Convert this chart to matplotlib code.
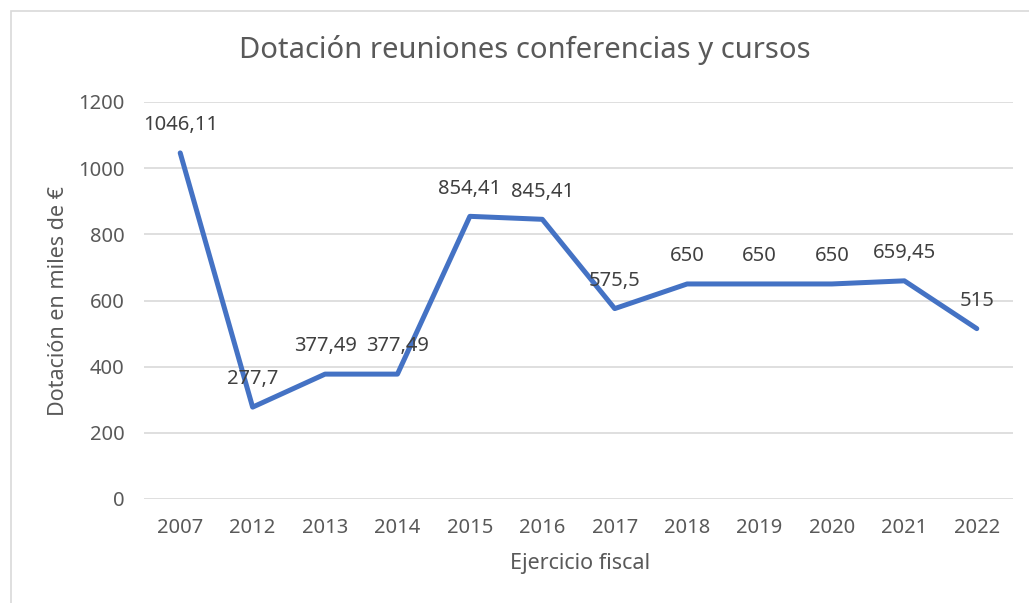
import matplotlib.pyplot as plt
from matplotlib.patches import Rectangle

# --- Datos --------------------------------------------------------------------
ejercicios = ["2007", "2012", "2013", "2014", "2015", "2016",
              "2017", "2018", "2019", "2020", "2021", "2022"]
dotacion = [1046.11, 277.7, 377.49, 377.49, 854.41, 845.41,
            575.5, 650, 650, 650, 659.45, 515]
etiquetas = ["1046,11", "277,7", "377,49", "377,49", "854,41", "845,41",
             "575,5", "650", "650", "650", "659,45", "515"]
yticks = [0, 200, 400, 600, 800, 1000, 1200]

GRIS = "#595959"
AZUL = "#4472C4"

plt.rcParams["font.family"] = ["Noto Sans", "DejaVu Sans"]

fig = plt.figure(figsize=(10.29, 6.03), dpi=100)
ax = fig.add_axes([144 / 1029, 1 - 499 / 603, (1013 - 144) / 1029, (499 - 102) / 603])

x = list(range(len(ejercicios)))
ax.plot(x, dotacion, color=AZUL, linewidth=3.6, solid_capstyle="round",
        solid_joinstyle="round", zorder=3)

# Etiquetas de datos encima de cada punto
for xi, yi, txt in zip(x, dotacion, etiquetas):
    ax.annotate(txt, (xi, yi), xytext=(0, 20), textcoords="offset points",
                ha="center", va="center", fontsize=14.5, color="#404040")

ax.set_xlim(-0.5, len(ejercicios) - 0.5)
ax.set_ylim(0, 1200)
ax.set_yticks(yticks)
ax.set_xticks(x)
ax.set_xticklabels(ejercicios)
ax.grid(axis="y", color="#D9D9D9", linewidth=1.2)
ax.set_axisbelow(True)
for lado in ["top", "right", "left", "bottom"]:
    ax.spines[lado].set_visible(False)
ax.tick_params(length=0, labelsize=14.5, colors=GRIS)
ax.tick_params(axis="x", pad=14)
ax.tick_params(axis="y", pad=14)

ax.set_xlabel("Ejercicio fiscal", fontsize=15.5, color=GRIS, va="center")
ax.xaxis.set_label_coords(0.5 - (144 + 1013 - 2 * 580) / 2 / 869, (499 - 563) / 397)
ax.set_ylabel("Dotación en miles de €", fontsize=15.5, color=GRIS, va="center")
ax.yaxis.set_label_coords((58 - 144) / 869, (499 - 301) / 397)
fig.text(525 / 1029, 1 - 50 / 603, "Dotación reuniones conferencias y cursos",
         ha="center", va="center", fontsize=21, color=GRIS)

# Marco del grafico
fig.patches.append(Rectangle((11 / 1029, -0.1), 1.2, 1 - 11 / 603 + 0.1,
                             transform=fig.transFigure, fill=False,
                             edgecolor="#D9D9D9", linewidth=1.2))

fig.savefig("out.png", dpi=100)
